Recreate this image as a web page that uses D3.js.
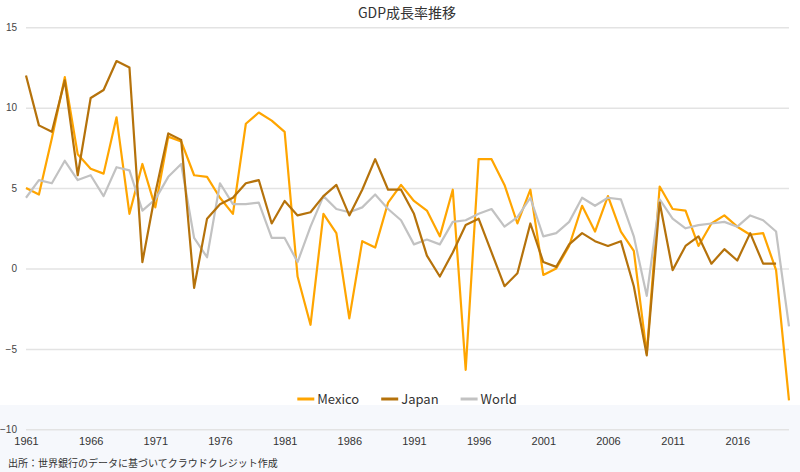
<!DOCTYPE html>
<html>
<head>
<meta charset="utf-8">
<script src="https://cdn.jsdelivr.net/npm/d3@7"></script>
<style>
    body { margin: 0; background: #fff; }
    svg { display: block; font-family: 'Noto Sans CJK JP', 'Noto Sans', sans-serif; }
</style>
</head>
<body>
<script>
// data: GDP growth rate (%), 1961-2020
var years = d3.range(1961, 2021);
var mexico = [
    5.0, 4.6, 8.1, 11.9, 7.1, 6.2, 5.9, 9.4, 3.4, 6.5,
    3.8, 8.2, 7.9, 5.8, 5.7, 4.4, 3.4, 9.0, 9.7, 9.2,
    8.5, -0.5, -3.5, 3.4, 2.2, -3.1, 1.7, 1.3, 4.1, 5.2,
    4.2, 3.6, 2.0, 4.9, -6.3, 6.8, 6.8, 5.2, 2.8, 4.9,
    -0.4, 0.0, 1.4, 3.9, 2.3, 4.5, 2.3, 1.1, -5.3, 5.1,
    3.7, 3.6, 1.4, 2.8, 3.3, 2.6, 2.1, 2.2, -0.1, -8.2];
var japan = [
    12.0, 8.9, 8.5, 11.7, 5.8, 10.6, 11.1, 12.9, 12.5, 0.4,
    4.7, 8.4, 8.0, -1.2, 3.1, 4.0, 4.4, 5.3, 5.5, 2.8,
    4.2, 3.3, 3.5, 4.5, 5.2, 3.3, 4.9, 6.8, 4.9, 4.9,
    3.4, 0.8, -0.5, 1.0, 2.7, 3.1, 1.0, -1.1, -0.3, 2.8,
    0.4, 0.1, 1.5, 2.2, 1.7, 1.4, 1.7, -1.1, -5.4, 4.1,
    -0.1, 1.4, 2.0, 0.3, 1.2, 0.5, 2.2, 0.3, 0.3, null];
var world = [
    4.4, 5.5, 5.3, 6.7, 5.5, 5.8, 4.5, 6.3, 6.1, 3.6,
    4.3, 5.7, 6.5, 1.9, 0.7, 5.3, 4.0, 4.0, 4.1, 1.9,
    1.9, 0.4, 2.6, 4.5, 3.7, 3.5, 3.8, 4.6, 3.7, 3.0,
    1.5, 1.8, 1.5, 2.9, 3.0, 3.4, 3.7, 2.6, 3.2, 4.4,
    2.0, 2.2, 2.9, 4.4, 3.9, 4.4, 4.3, 2.0, -1.7, 4.3,
    3.1, 2.5, 2.7, 2.8, 2.9, 2.6, 3.3, 3.0, 2.3, -3.6];
var seriesNames = ['Mexico', 'Japan', 'World'];
var yTicks = [-10, -5, 0, 5, 10, 15];
var xTickYears = d3.range(1961, 2021, 5);

var w = 800, h = 472;
var colors = { Mexico: '#ffa500', Japan: '#b5720b', World: '#c2c2c2' };

var svg = d3.select('body')
    .append('svg')
    .attr('width', w)
    .attr('height', h);

// pale band at the bottom
svg.append('rect')
    .attr('x', 0)
    .attr('y', 405)
    .attr('width', w)
    .attr('height', h - 405)
    .style('fill', '#f6f8fc');

var x = d3.scalePoint()
    .domain(years)
    .range([26, 789]);
var y = d3.scaleLinear()
    .domain([-10, 15])
    .range([429.3, 27.3]);

// gridlines + y labels
var yAxis = d3.axisLeft(y)
    .tickValues(yTicks)
    .tickSize(-(789 - 26))
    .tickPadding(9);
var gy = svg.append('g')
    .attr('transform', 'translate(26,0)')
    .call(yAxis);
gy.select('.domain').remove();
gy.selectAll('line').style('stroke', '#e3e3e3').style('stroke-width', 1.5);
gy.selectAll('text')
    .style('font-size', '10px')
    .style('fill', '#444');

// x labels
var xAxis = d3.axisBottom(x)
    .tickValues(xTickYears)
    .tickSize(0)
    .tickPadding(4);
var gx = svg.append('g')
    .attr('transform', 'translate(0,433)')
    .call(xAxis);
gx.select('.domain').remove();
gx.selectAll('text')
    .style('font-size', '11px')
    .style('fill', '#333');

// lines
var seriesData = [
    { name: 'Mexico', values: mexico },
    { name: 'World', values: world },
    { name: 'Japan', values: japan }
];
var line = d3.line()
    .defined(function(d) { return d != null; })
    .x(function(d, i) { return x(years[i]); })
    .y(function(d) { return y(d); });

svg.selectAll('.series')
    .data(seriesData)
    .enter()
    .append('path')
    .attr('class', 'series')
    .attr('d', function(d) { return line(d.values); })
    .style('fill', 'none')
    .style('stroke', function(d) { return colors[d.name]; })
    .style('stroke-width', 2.2)
    .style('stroke-linejoin', 'round');

// title
svg.append('text')
    .attr('x', 407)
    .attr('y', 18)
    .attr('text-anchor', 'middle')
    .style('font-size', '14px')
    .style('fill', '#333')
    .text('GDP成長率推移');

// legend
var legend = svg.append('g').attr('class', 'legend');
var lx = 0;
seriesNames.forEach(function(name) {
    var g = legend.append('g').attr('transform', 'translate(' + lx + ',0)');
    g.append('line')
        .attr('x1', 0).attr('x2', 17)
        .attr('y1', 0).attr('y2', 0)
        .style('stroke', colors[name])
        .style('stroke-width', 3);
    var t = g.append('text')
        .attr('x', 20)
        .attr('y', 4.5)
        .style('font-size', '13px')
        .style('fill', '#333')
        .text(name);
    lx += 20 + t.node().getComputedTextLength() + 22;
});
var legendW = lx - 22;
legend.attr('transform', 'translate(' + (407 - legendW / 2) + ',399)');

// source
svg.append('text')
    .attr('x', 8)
    .attr('y', 467)
    .style('font-size', '10px')
    .style('fill', '#333')
    .text('出所：世界銀行のデータに基づいてクラウドクレジット作成');
</script>
</body>
</html>
